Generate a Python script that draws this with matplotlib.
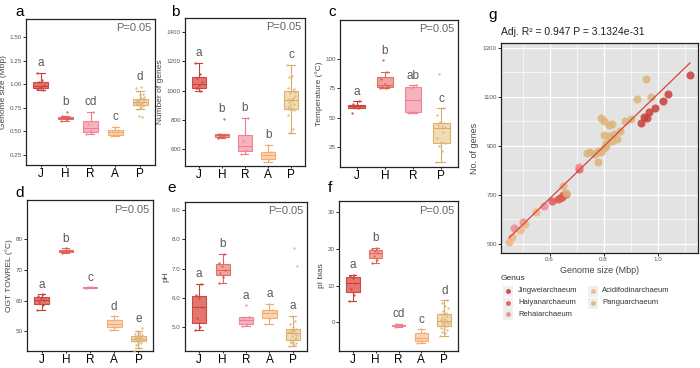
import matplotlib
matplotlib.use('Agg')
import matplotlib.pyplot as plt
import numpy as np
from matplotlib.patches import Rectangle

plt.rcParams['font.family'] = ['Liberation Sans', 'DejaVu Sans']

# ---------------- data ----------------
groups = ['J', 'H', 'R', 'A', 'P']
genus_names = ['Jingweiarchaeum', 'Haiyanarchaeum', 'Rehaiarchaeum',
               'Acidifodinarchaeum', 'Panguarchaeum']

genome_J = [1.12, 1.04, 1.02, 0.99, 0.97, 0.95, 0.94, 0.96]
genes_J = [1190, 1110, 1085, 1055, 1040, 1020, 995, 1015]
genome_H = [0.61, 0.63, 0.64, 0.645, 0.65, 0.66, 0.71]
genes_H = [675, 682, 688, 693, 698, 705, 806]
genome_R = [0.47, 0.50, 0.58, 0.71]
genes_R = [563, 590, 655, 815]
genome_A = [0.45, 0.46, 0.49, 0.51, 0.55]
genes_A = [508, 530, 556, 583, 631]
genome_P = [0.956, 0.975, 0.923, 0.90, 0.88, 0.79, 0.80, 0.82, 0.83, 0.80, 0.82, 0.84, 0.81,
            0.80, 0.75, 0.74, 0.77, 0.79, 0.78, 0.65, 0.66, 0.86, 0.85, 0.83, 0.81, 0.78]
genes_P = [1175, 1100, 1090, 1010, 1000, 1015, 1000, 985, 990, 945, 940, 950, 900,
           890, 876, 871, 868, 875, 835, 737, 708, 960, 930, 920, 910, 880]

temp_groups = ['J', 'H', 'R', 'P']
temp_J = [53.7, 58, 59, 59.6, 60.5, 61.5, 64]
temp_H = [75, 75.5, 76, 77, 79, 83, 88.5, 99]
temp_R = [53.7, 55, 75, 77.5]
temp_P = [12, 22, 26, 28, 29, 33, 38, 41, 42, 43, 44, 45, 46, 52, 58, 87]

ogt_J = [57, 58.5, 59.5, 60.2, 61, 61.5, 62]
ogt_H = [75.4, 75.8, 76.3, 76.6, 77.1]
ogt_R = [64.2, 64.3, 64.4]
ogt_A = [50.3, 51.5, 52.4, 53.5, 54.8]
ogt_P = [43.5, 44.5, 45.5, 46, 46.5, 46.8, 47, 47.2, 47.4, 47.5, 47.6, 47.6, 47.8, 48,
         48.2, 48.4, 48.6, 48.8, 49, 49.5, 50, 51, 46.7, 47.3, 48.1, 45.8]

ph_J = [4.9, 5.0, 5.3, 5.7, 6.0, 6.1, 6.48]
ph_H = [6.5, 6.7, 6.85, 6.95, 7.1, 7.2, 7.5]
ph_R = [5.05, 5.1, 5.25, 5.35, 5.75]
ph_A = [5.1, 5.3, 5.47, 5.6, 5.8]
ph_P = [4.36, 4.4, 4.45, 4.45, 4.5, 4.55, 4.6, 4.7, 4.75, 4.8, 4.8, 4.8, 4.85, 4.85, 4.9,
        4.9, 4.95, 5.0, 5.1, 5.2, 5.4, 7.1, 7.7, 4.5, 4.65, 4.9]

pib_J = [5.7, 7.5, 9, 10.8, 12, 12.6, 13]
pib_H = [16.2, 17, 18, 18.8, 19.5, 20, 20.3]
pib_R = [-1.2, -0.8, -0.4]
pib_A = [-5.6, -5.2, -4.3, -3.0, -1.9]
pib_P = [-3.8, -3, -2.5, -2, -1.8, -1.5, -1, -0.7, -0.3, 0, 0.2, 0.3, 0.4, 0.5, 0.8, 1.2,
         1.6, 2, 2.3, 2.5, 3, 3.8, 4.5, 5.2, 6, -0.5]

letters_a = ['a', 'b', 'cd', 'c', 'd']
letters_b = ['a', 'b', 'b', 'b', 'c']
letters_c = ['a', 'b', 'ab', 'c']
letters_d = ['a', 'b', 'c', 'd', 'e']
letters_e = ['a', 'b', 'a', 'a', 'a']
letters_f = ['a', 'b', 'cd', 'c', 'd']

yt_a = [0.25, 0.50, 0.75, 1.00, 1.25, 1.50]
yt_b = [600, 800, 1000, 1200, 1400]
yt_c = [25, 50, 75, 100]
yt_d = [50, 60, 70, 80]
yt_e = [5.0, 6.0, 7.0, 8.0, 9.0]
yt_f = [0, 10, 20, 30]
xt_g = [0.6, 0.8, 1.0]
yt_g = [500, 700, 900, 1100, 1300]

r2_text = 'Adj. R² = 0.947 P = 3.1324e-31'

# ---------------- styles ----------------
FACE = {'J': '#E2675F', 'H': '#EE9A90', 'R': '#F6AAB6', 'A': '#FAD0AC', 'P': '#F2D7AC'}
EDGE = {'J': '#C63F38', 'H': '#E0675E', 'R': '#EE7C8E', 'A': '#F1A868', 'P': '#D8AB66'}
PT = {'J': '#C8403A', 'H': '#DE5A52', 'R': '#F08898', 'A': '#F5B383', 'P': '#DDB57A'}

W, Hh = 700, 368
fig = plt.figure(figsize=(7, 3.68), dpi=100)


def ax_px(l, t, r, b):
    return fig.add_axes([l / W, 1 - b / Hh, (r - l) / W, (b - t) / Hh])


def jitter(n):
    return (((np.arange(n) * 0.618034) % 1.0) - 0.5) * 0.34


def box_panel(ax, cats, data, letters, ylim, yticks, ytl, ylabel, label, lab_xy):
    pos = np.arange(1, len(cats) + 1)
    bp = ax.boxplot(data, positions=pos, widths=0.6, patch_artist=True,
                    showfliers=False, whis=1.5, capwidths=0.3)
    yr = ylim[1] - ylim[0]
    for i, c in enumerate(cats):
        bp['boxes'][i].set(facecolor=FACE[c], edgecolor=EDGE[c], lw=0.8, alpha=0.9)
        bp['medians'][i].set(color=EDGE[c], lw=0.7)
        for k in (2 * i, 2 * i + 1):
            bp['whiskers'][k].set(color=EDGE[c], lw=0.8)
            bp['caps'][k].set(color=EDGE[c], lw=0.8)
        d = np.asarray(data[i])
        ax.scatter(pos[i] + jitter(len(d)), d, s=3, color=PT[c], alpha=0.85,
                   lw=0, zorder=3)
        wtop = bp['whiskers'][2 * i + 1].get_ydata()[1]
        top = d.max() if (d.max() - wtop) < 0.15 * yr else wtop
        ax.annotate(letters[i], (pos[i], top), xytext=(0, 2.5),
                    textcoords='offset points', ha='center', va='bottom',
                    fontsize=8.5, color='#5a5a5a')
    ax.set_xlim(0.4, len(cats) + 0.6)
    ax.set_ylim(*ylim)
    ax.set_xticks(pos)
    ax.set_xticklabels(cats, fontsize=8.5)
    ax.set_yticks(yticks)
    ax.set_yticklabels(ytl, fontsize=4.5, color='#555555')
    ax.set_ylabel(ylabel, fontsize=6, color='#444444', labelpad=2)
    ax.tick_params(axis='y', length=2, width=0.6, pad=1)
    ax.tick_params(axis='x', length=1.5, width=0.6, pad=0.5)
    for s in ax.spines.values():
        s.set_linewidth(0.9)
        s.set_color('#222222')
    ax.text(0.97, 0.97, 'P=0.05', transform=ax.transAxes, ha='right', va='top',
            fontsize=8, color='#666666')
    fig.text(lab_xy[0] / W, 1 - lab_xy[1] / Hh, label, fontsize=11,
             ha='center', va='center')


axa = ax_px(26, 19, 155, 165)
box_panel(axa, groups, [genome_J, genome_H, genome_R, genome_A, genome_P], letters_a,
          (0.144, 1.69), yt_a, ['%.2f' % v for v in yt_a], 'Genome size (Mbp)', 'a', (20, 12))

axb = ax_px(185, 18, 305, 166)
box_panel(axb, groups, [genes_J, genes_H, genes_R, genes_A, genes_P], letters_b,
          (484, 1496), yt_b, [str(v) for v in yt_b], 'Number of genes', 'b', (175, 12))

axc = ax_px(340, 20, 458, 167)
box_panel(axc, temp_groups, [temp_J, temp_H, temp_R, temp_P], letters_c,
          (8, 133), yt_c, [str(v) for v in yt_c], 'Temperature (°C)', 'c', (332, 12))

axd = ax_px(27, 200, 153, 351)
box_panel(axd, groups, [ogt_J, ogt_H, ogt_R, ogt_A, ogt_P], letters_d,
          (43.5, 92.9), yt_d, [str(v) for v in yt_d], 'OGT TOWREL (°C)', 'd', (20, 193))

axe = ax_px(185, 202, 307, 351)
box_panel(axe, groups, [ph_J, ph_H, ph_R, ph_A, ph_P], letters_e,
          (4.19, 9.27), yt_e, ['%.1f' % v for v in yt_e], 'pH', 'e', (172, 188))

axf = ax_px(339, 201, 458, 351)
box_panel(axf, groups, [pib_J, pib_H, pib_R, pib_A, pib_P], letters_f,
          (-7.8, 33), yt_f, [str(v) for v in yt_f], 'pI bias', 'f', (330, 188))

# ---------------- panel g ----------------
axg = ax_px(501, 43, 698, 253)
axg.set_facecolor('#E3E3E3')
all_x, all_y = [], []
for c, gx, gy in zip(groups, [genome_J, genome_H, genome_R, genome_A, genome_P],
                     [genes_J, genes_H, genes_R, genes_A, genes_P]):
    axg.scatter(gx, gy, s=34, color=PT[c], alpha=0.85, lw=0, zorder=3)
    all_x += gx
    all_y += gy
all_x = np.array(all_x)
all_y = np.array(all_y)
k, b0 = np.polyfit(all_x, all_y, 1)
xx = np.array([all_x.min(), all_x.max()])
axg.plot(xx, k * xx + b0, color='#D4453E', lw=0.9, zorder=4)
axg.set_xlim(0.42, 1.15)
axg.set_ylim(463, 1320)
axg.set_xticks(xt_g)
axg.set_xticklabels([str(v) for v in xt_g], fontsize=4.5, color='#555555')
axg.set_yticks(yt_g)
axg.set_yticklabels([str(v) for v in yt_g], fontsize=4.5, color='#555555')
axg.set_xticks([0.5, 0.7, 0.9, 1.1], minor=True)
axg.set_yticks([600, 800, 1000, 1200], minor=True)
axg.grid(True, which='major', color='white', lw=0.9)
axg.grid(True, which='minor', color='white', lw=0.45)
axg.set_axisbelow(True)
axg.tick_params(which='both', length=2, width=0.6, pad=1)
axg.tick_params(which='minor', length=0)
for s in axg.spines.values():
    s.set_linewidth(0.9)
    s.set_color('#222222')
axg.set_xlabel('Genome size (Mbp)', fontsize=6.5, color='#444444', labelpad=3)
axg.set_ylabel('No. of genes', fontsize=6.5, color='#444444', labelpad=3)
axg.text(0.0, 1.03, r2_text, transform=axg.transAxes, ha='left', va='bottom',
         fontsize=7.5, color='#222222')
fig.text(493 / W, 1 - 15 / Hh, 'g', fontsize=11, ha='center', va='center')

# legend drawn in a pixel-coordinate helper axes
axl = ax_px(495, 268, 700, 322)
axl.set_xlim(495, 700)
axl.set_ylim(322, 268)
axl.axis('off')
axl.text(501, 278, 'Genus', fontsize=6, va='center', ha='left', color='#333333')
key_pos = [(508, 291), (508, 303), (508, 314), (593, 291), (593, 303)]
text_x = [518, 518, 518, 602, 602]
for c, name, (kx, ky), tx in zip(groups, genus_names, key_pos, text_x):
    axl.add_patch(Rectangle((kx - 5, ky - 5.5), 10, 11, facecolor='#EFEFEF',
                            edgecolor='none'))
    axl.plot([kx], [ky], 'o', ms=3.5, color=PT[c], alpha=0.9, mec='none')
    axl.text(tx, ky, name, fontsize=5.5, va='center', ha='left', color='#333333')

fig.savefig('out.png', dpi=100)
